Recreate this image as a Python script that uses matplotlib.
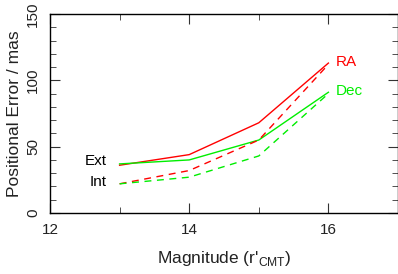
import matplotlib
matplotlib.use("Agg")
import matplotlib.pyplot as plt
from matplotlib.ticker import MultipleLocator

plt.rcParams['font.family'] = ['Liberation Sans', 'DejaVu Sans']
plt.rcParams['mathtext.fontset'] = 'custom'
plt.rcParams['mathtext.rm'] = 'Liberation Sans'

mag = [13, 14, 15, 16]
ra_ext = [36, 44, 68, 113]
dec_ext = [37, 40, 55, 91]
ra_int = [22, 32, 55, 112]
dec_int = [22, 27, 43, 90]

red = '#ff0000'
green = '#00ee00'

fig = plt.figure(figsize=(3.98, 2.74), dpi=100)
ax = fig.add_axes([0.1256, 0.2226, 0.8744, 0.7264])

ax.plot(mag, ra_ext, color=red, lw=1)
ax.plot(mag, dec_ext, color=green, lw=1)
ax.plot(mag, ra_int, color=red, lw=1, dashes=(5, 4))
ax.plot(mag, dec_int, color=green, lw=1, dashes=(5, 4))

ax.text(16.1, 114, 'RA', color=red, fontsize=11, va='center')
ax.text(16.1, 92, 'Dec', color=green, fontsize=11, va='center')
ax.text(12.82, 39, 'Ext', color='black', fontsize=11, va='center', ha='right')
ax.text(12.82, 23, 'Int', color='black', fontsize=11, va='center', ha='right')

ax.set_xlim(12, 17)
ax.set_ylim(0, 150)
ax.xaxis.set_major_locator(MultipleLocator(2))
ax.xaxis.set_minor_locator(MultipleLocator(1))
ax.yaxis.set_major_locator(MultipleLocator(50))
ax.yaxis.set_minor_locator(MultipleLocator(10))
ax.tick_params(which='both', direction='in', top=True, right=True, labelsize=11,
               color='#333333', labelcolor='#222222')
ax.tick_params(which='major', length=7, pad=7)
ax.tick_params(which='minor', length=4)
for lab in ax.get_yticklabels():
    lab.set_rotation(90)
    lab.set_va('center')
for s in ax.spines.values():
    s.set_linewidth(1)

ax.set_xlabel("Magnitude (r'$_{\\mathrm{CMT}}$)", fontsize=12.5, labelpad=9, color='#222222')
ax.set_ylabel('Positional Error / mas', fontsize=12.5, labelpad=3, color='#222222')

fig.savefig('out.png', dpi=100)
